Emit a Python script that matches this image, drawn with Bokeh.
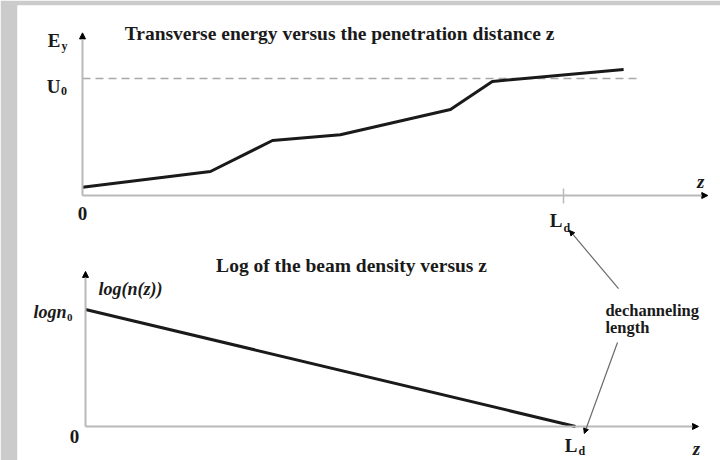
from bokeh.plotting import figure
from bokeh.models import Range1d, Arrow, NormalHead
from bokeh.core.properties import value
from bokeh.embed import file_html
from bokeh.resources import INLINE

# Upper panel: transverse energy E_y versus penetration depth z
# (energies in units of U0, depth in units where L_d = 10)
z_energy = [0.0, 2.66, 3.95, 5.36, 7.65, 8.52, 11.25]
e_transverse = [0.07, 0.205, 0.47, 0.52, 0.735, 0.975, 1.077]
U0 = 1.0
LD = 10.0

# Lower panel: log of the beam density, falling linearly to 0 at L_d
z_density = [0.0, LD]
log_density = [1.0, 0.0]

# extent of the drawn axes (data units)
top_z_end, top_e_end, u0_end = 13.0, 1.39, 11.56
bot_z_end, bot_log_end = 12.51, 1.325

SERIF = value("'Liberation Serif', 'Times New Roman', serif")
AXIS_GRAY = "#b9b9b9"
INK = "#1a1a1a"

p = figure(width=720, height=460, output_backend="svg", toolbar_location=None,
           x_axis_location=None, y_axis_location=None,
           x_range=Range1d(-1.351, 13.264), y_range=Range1d(-2.265, 1.624),
           min_border_left=17, min_border_top=5, min_border_right=0, min_border_bottom=0,
           border_fill_color="#cbcbcb", background_fill_color="white",
           outline_line_color=None)
p.grid.visible = False
p.extra_x_ranges = {"zb": Range1d(-1.388, 12.959)}
p.extra_y_ranges = {"nb": Range1d(-0.291, 3.598)}
B = dict(x_range_name="zb", y_range_name="nb")


def head(size=6):
    return NormalHead(size=size, fill_color="black", line_color="black", line_width=1)


# ---- upper panel ----
p.add_layout(Arrow(end=head(), x_start=0, y_start=0, x_end=top_z_end, y_end=0,
                   line_color=AXIS_GRAY, line_width=2))
p.add_layout(Arrow(end=head(), x_start=0, y_start=0, x_end=0, y_end=top_e_end,
                   line_color=AXIS_GRAY, line_width=2))
p.line([0, u0_end], [U0, U0], line_color="#a8a8a8", line_width=1.5, line_dash="8 5")
p.segment(x0=[LD], y0=[0.06], x1=[LD], y1=[-0.068], line_color=AXIS_GRAY, line_width=1.5)
p.line(z_energy, e_transverse, line_color=INK, line_width=3, line_join="round")

p.text(x=[5.343], y=[1.385], text=["Transverse energy versus the penetration distance z"],
       text_font=SERIF, text_font_style="bold", text_font_size="19.5px",
       text_align="center", text_baseline="alphabetic", text_color=INK)
p.text(x=[-0.457, -0.457], y=[1.325, 0.932], text=["E", "U"],
       text_font=SERIF, text_font_style="bold", text_font_size="19px",
       text_align="right", text_baseline="alphabetic", text_color=INK)
p.text(x=[-0.437, -0.447], y=[1.274, 0.889], text=["y", "0"],
       text_font=SERIF, text_font_style="bold", text_font_size="12px",
       text_align="left", text_baseline="alphabetic", text_color=INK)
p.text(x=[0.0], y=[-0.154], text=["0"],
       text_font=SERIF, text_font_style="bold", text_font_size="19px",
       text_align="center", text_baseline="alphabetic", text_color=INK)
p.text(x=[LD - 0.02], y=[-0.215], text=["L"],
       text_font=SERIF, text_font_style="bold", text_font_size="19px",
       text_align="right", text_baseline="alphabetic", text_color=INK)
p.text(x=[LD + 0.0], y=[-0.28], text=["d"],
       text_font=SERIF, text_font_style="bold", text_font_size="12px",
       text_align="left", text_baseline="alphabetic", text_color=INK)
p.text(x=[12.85], y=[0.12], text=["z"],
       text_font=SERIF, text_font_style="bold italic", text_font_size="19px",
       text_align="center", text_baseline="alphabetic", text_color=INK)

# ---- lower panel ----
p.add_layout(Arrow(end=head(), x_start=0, y_start=0, x_end=bot_z_end, y_end=0,
                   line_color=AXIS_GRAY, line_width=2, **B))
p.add_layout(Arrow(end=head(), x_start=0, y_start=0, x_end=0, y_end=bot_log_end,
                   line_color=AXIS_GRAY, line_width=2, **B))
p.line(z_density, log_density, line_color=INK, line_width=3, **B)

p.text(x=[5.429], y=[1.376], text=["Log of the beam density versus z"],
       text_font=SERIF, text_font_style="bold", text_font_size="19.5px",
       text_align="center", text_baseline="alphabetic", text_color=INK, **B)
p.text(x=[-0.388], y=[0.974], text=["logn"],
       text_font=SERIF, text_font_style="bold italic", text_font_size="18px",
       text_align="right", text_baseline="alphabetic", text_color=INK, **B)
p.text(x=[-0.378], y=[0.932], text=["0"],
       text_font=SERIF, text_font_style="bold", text_font_size="11px",
       text_align="left", text_baseline="alphabetic", text_color=INK, **B)
p.text(x=[0.265], y=[1.179], text=["log(n(z))"],
       text_font=SERIF, text_font_style="bold italic", text_font_size="18px",
       text_align="left", text_baseline="alphabetic", text_color=INK, **B)
p.text(x=[-0.224], y=[-0.085], text=["0"],
       text_font=SERIF, text_font_style="bold", text_font_size="19px",
       text_align="center", text_baseline="alphabetic", text_color=INK, **B)
p.text(x=[LD + 0.04], y=[-0.165], text=["L"],
       text_font=SERIF, text_font_style="bold", text_font_size="19px",
       text_align="right", text_baseline="alphabetic", text_color=INK, **B)
p.text(x=[LD + 0.06], y=[-0.21], text=["d"],
       text_font=SERIF, text_font_style="bold", text_font_size="12px",
       text_align="left", text_baseline="alphabetic", text_color=INK, **B)
p.text(x=[12.47], y=[-0.185], text=["z"],
       text_font=SERIF, text_font_style="bold italic", text_font_size="19px",
       text_align="center", text_baseline="alphabetic", text_color=INK, **B)
p.text(x=[10.61, 10.61], y=[0.99, 0.845], text=["dechanneling", "length"],
       text_font=SERIF, text_font_style="bold", text_font_size="16.5px",
       text_align="left", text_baseline="alphabetic", text_color=INK, **B)

# pointers from the caption to both L_d marks
p.add_layout(Arrow(end=head(5), x_start=10.878, y_start=1.179, x_end=9.878, y_end=1.675,
                   line_color="#6a6a6a", line_width=1.2, **B))
p.add_layout(Arrow(end=head(5), x_start=10.857, y_start=0.718, x_end=10.18, y_end=-0.06,
                   line_color="#6a6a6a", line_width=1.2, **B))

open("out.html", "w").write(file_html(p, INLINE))
